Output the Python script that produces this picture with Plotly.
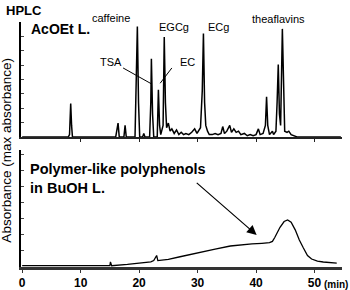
import plotly.graph_objects as go

# ---- data ----
# top chromatogram: AcOEt layer (relative absorbance)
top_time = [0, 7.9, 8.1, 8.3, 8.45, 8.6,
            16.0, 16.2, 16.4, 16.6, 17.4, 17.6, 17.8,
            19.3, 19.5, 19.7, 19.9, 20.1, 20.6, 20.8, 21.0,
            21.8, 22.0, 22.1, 22.3, 22.5,
            23.1, 23.3, 23.5, 23.7,
            24.1, 24.3, 24.5, 24.7, 25.0, 25.3, 25.6, 26.0, 26.4, 26.8, 27.2, 27.6,
            28.0, 28.5, 29.0, 29.5, 29.9,
            30.5, 30.8, 31.0, 31.2, 31.4, 31.7, 32.0, 32.5, 33.0, 33.5, 34.0, 34.3,
            34.6, 35.0, 35.5, 35.8, 36.2, 36.6, 37.0, 37.4, 38.0, 38.5, 39.0, 39.5,
            40.0, 40.4, 40.7, 41.2, 41.6, 41.8, 42.0, 42.3, 42.8, 43.0, 43.4, 43.6,
            43.8, 44.0, 44.2, 44.5, 44.7, 44.9, 45.3, 45.6, 46.0, 46.5, 47.0, 54.5]
top_abs = [0, 0, 0.02, 0.29, 0.10, 0,
           0, 0.06, 0.12, 0, 0, 0.10, 0,
           0, 0.40, 0.96, 0.30, 0, 0, 0.03, 0,
           0, 0.30, 0.68, 0.20, 0,
           0, 0.41, 0.10, 0.02,
           0.10, 0.87, 0.30, 0.08, 0.12, 0.05, 0.07, 0.03, 0.06, 0.02, 0.04, 0.02,
           0.03, 0.02, 0.04, 0.07, 0.03,
           0.08, 0.40, 0.90, 0.30, 0.10, 0.05, 0.02, 0.02, 0.03, 0.02, 0.03, 0.09,
           0.03, 0.05, 0.10, 0.04, 0.07, 0.04, 0.05, 0.02, 0.03, 0.01, 0.02, 0.01,
           0.02, 0.07, 0.02, 0.03, 0.10, 0.35, 0.10, 0.02, 0.05, 0.02, 0.05, 0.30,
           0.63, 0.20, 0.10, 0.94, 0.30, 0.05, 0.04, 0.05, 0.02, 0.01, 0, 0]

# bottom chromatogram: BuOH layer
bot_time = [0, 15.0, 15.1, 15.3, 18.0, 20.0, 22.0, 22.5, 23.0, 23.2, 25.0, 27.0,
            30.4, 33.0, 35.6, 37.5, 39.3, 41.0, 42.3, 42.8, 43.2, 44.1, 44.8, 45.4,
            46.0, 46.7, 47.4, 48.1, 48.8, 49.5, 50.5, 51.5, 53.8]
bot_abs = [0.01, 0.01, 0.04, 0.01, 0.02, 0.03, 0.04, 0.05, 0.09, 0.05, 0.06, 0.08,
           0.117, 0.14, 0.164, 0.175, 0.18, 0.185, 0.19, 0.20, 0.23, 0.31, 0.355, 0.367,
           0.35, 0.29, 0.21, 0.148, 0.09, 0.0625, 0.045, 0.039, 0.031]

x_ticks = [0, 10, 20, 30, 40, 50]
x_tick_labels = ["0", "10", "20", "30", "40", "50"]

peak_names = ["caffeine", "EGCg", "ECg", "TSA", "EC", "theaflavins"]
peak_label_x = [15.2, 26.0, 33.5, 15.2, 28.3, 43.85]
peak_label_y = [1.035, 0.957, 0.957, 0.652, 0.652, 1.026]

FONT = "Arial, Liberation Sans, sans-serif"

fig = go.Figure()
fig.add_trace(go.Scatter(x=top_time, y=top_abs, mode="lines",
                         line=dict(color="black", width=1.5),
                         xaxis="x", yaxis="y", showlegend=False))
fig.add_trace(go.Scatter(x=bot_time, y=bot_abs, mode="lines",
                         line=dict(color="black", width=1.3),
                         xaxis="x2", yaxis="y2", showlegend=False))

xr = [-0.2, 54.7]
fig.update_layout(
    width=350, height=290,
    margin=dict(l=21, r=8, t=22, b=23),
    paper_bgcolor="white", plot_bgcolor="white",
    font=dict(family=FONT, color="black"),
    xaxis=dict(domain=[0, 1], anchor="y", range=xr, showline=True, linecolor="#222",
               linewidth=2, ticks="outside", tickvals=x_ticks[1:], ticklen=3,
               tickcolor="#222", showticklabels=False, showgrid=False, zeroline=False,
               automargin=False),
    yaxis=dict(domain=[0.531, 1], anchor="x", range=[0, 1.0], showline=True,
               linecolor="black", linewidth=1.5, ticks="inside", dtick=0.125,
               ticklen=3, showticklabels=False, showgrid=False, zeroline=False,
               automargin=False),
    xaxis2=dict(domain=[0, 1], anchor="y2", range=xr, showline=True, linecolor="#333",
                linewidth=2.5, ticks="outside", tickvals=x_ticks, ticktext=x_tick_labels,
                ticklen=3, tickcolor="#333",
                tickfont=dict(size=12, family=FONT, weight="bold"),
                showgrid=False, zeroline=False, automargin=False),
    yaxis2=dict(domain=[0, 0.478], anchor="x2", range=[0, 0.914], showline=True,
                linecolor="black", linewidth=1.5, ticks="inside", dtick=0.125,
                ticklen=3, showticklabels=False, showgrid=False, zeroline=False,
                automargin=False),
)

ann = []
for name, px, py in zip(peak_names, peak_label_x, peak_label_y):
    ann.append(dict(x=px, y=py, xref="x", yref="y domain", text=name, showarrow=False,
                    font=dict(size=11, family=FONT), xanchor="center", yanchor="middle"))
ann += [
    dict(x=0, y=1, xref="paper", yref="paper", xshift=-17, yshift=21,
         text="<b>HPLC</b>", showarrow=False, font=dict(size=13),
         xanchor="left", yanchor="top"),
    dict(x=1.2, y=0.935, xref="x", yref="y", text="<b>AcOEt L.</b>", showarrow=False,
         font=dict(size=14), xanchor="left", yanchor="middle"),
    dict(x=1.0, y=0.69, xref="x2", yref="y2",
         text="<b>Polymer-like polyphenols<br>in BuOH L.</b>", showarrow=False,
         font=dict(size=14.5), xanchor="left", yanchor="middle", align="left"),
    dict(x=40.1, y=0.25, xref="x2", yref="y2", ax=29.6, ay=0.667, axref="x2", ayref="y2",
         text="", showarrow=True, arrowhead=2, arrowsize=1.6, arrowwidth=1.2,
         arrowcolor="black"),
    dict(x=0, y=0.475, xref="paper", yref="paper", xshift=-14,
         text="Absorbance (max absorbance)", textangle=-90, showarrow=False,
         font=dict(size=13.5), xanchor="center", yanchor="middle"),
    dict(x=0.937, y=0, xref="paper", yref="paper", text="<b>(min)</b>", showarrow=False,
         font=dict(size=10), xanchor="left", yanchor="middle", yshift=-17),
]
fig.update_layout(annotations=ann)

shapes = [
    dict(type="line", xref="x", yref="y", x0=17.26, y0=0.60, x1=22.17, y1=0.46,
         line=dict(color="black", width=1)),
    dict(type="line", xref="x", yref="y", x0=25.6, y0=0.60, x1=23.6, y1=0.467,
         line=dict(color="black", width=1)),
]
fig.update_layout(shapes=shapes)

fig.write_html("out.html")
